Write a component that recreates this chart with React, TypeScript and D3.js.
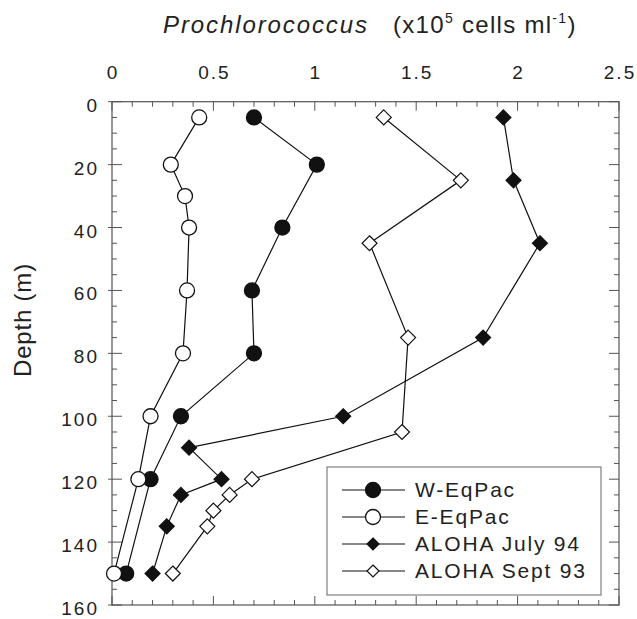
import React from "react";
import * as d3 from "d3";

const xTicks = [0, 0.5, 1, 1.5, 2, 2.5];
const xTickLabels = ["0", "0.5", "1", "1.5", "2", "2.5"];
const yTicks = [0, 20, 40, 60, 80, 100, 120, 140, 160];

const wDepth = [5, 20, 40, 60, 80, 100, 120, 150];
const wVal = [0.7, 1.01, 0.84, 0.69, 0.7, 0.34, 0.19, 0.07];
const eDepth = [5, 20, 30, 40, 60, 80, 100, 120, 150];
const eVal = [0.43, 0.29, 0.36, 0.38, 0.37, 0.35, 0.19, 0.13, 0.01];
const julyDepth = [5, 25, 45, 75, 100, 110, 120, 125, 135, 150];
const julyVal = [1.93, 1.98, 2.11, 1.83, 1.14, 0.38, 0.54, 0.34, 0.27, 0.2];
const septDepth = [5, 25, 45, 75, 105, 120, 125, 130, 135, 150];
const septVal = [1.34, 1.72, 1.27, 1.46, 1.43, 0.69, 0.58, 0.5, 0.47, 0.3];

const seriesNames = ["W-EqPac", "E-EqPac", "ALOHA July 94", "ALOHA Sept 93"];

type Kind = "fc" | "oc" | "fd" | "od";
const series: { name: string; depth: number[]; val: number[]; kind: Kind }[] = [
  { name: seriesNames[0], depth: wDepth, val: wVal, kind: "fc" },
  { name: seriesNames[1], depth: eDepth, val: eVal, kind: "oc" },
  { name: seriesNames[2], depth: julyDepth, val: julyVal, kind: "fd" },
  { name: seriesNames[3], depth: septDepth, val: septVal, kind: "od" },
];

const FONT = "'Liberation Sans', Arial, Helvetica, sans-serif";

function Marker({ kind, cx, cy, size }: { kind: Kind; cx: number; cy: number; size: number }) {
  if (kind === "fc" || kind === "oc") {
    return (
      <circle cx={cx} cy={cy} r={size} fill={kind === "fc" ? "#111" : "#fff"} stroke="#111" strokeWidth={1.3} />
    );
  }
  const s = size;
  const pts = `${cx},${cy - s} ${cx + s},${cy} ${cx},${cy + s} ${cx - s},${cy}`;
  return <polygon points={pts} fill={kind === "fd" ? "#111" : "#fff"} stroke="#111" strokeWidth={1.2} />;
}

export default function App() {
  const W = 637;
  const H = 619;
  const x0 = 112;
  const x1 = 619;
  const y0 = 101.7;
  const y1 = 605;
  const x = d3.scaleLinear().domain([0, 2.5]).range([x0, x1]);
  const y = d3.scaleLinear().domain([0, 160]).range([y0, y1]);
  const line = d3
    .line<[number, number]>()
    .x((d) => x(d[0]))
    .y((d) => y(d[1]));

  const minorX = d3.range(0, 26).map((i) => i / 10);
  const minorY = d3.range(0, 33).map((i) => i * 5);
  const frame = "#555";

  const legendX = 327;
  const legendY = 467;
  const legendW = 274;
  const legendH = 128;
  const rowY = (i: number) => 490 + i * 27;

  return (
    <svg
      width={W}
      height={H}
      style={{ position: "absolute", left: 0, top: 0, background: "#fff" }}
      fontFamily={FONT}
    >
      <rect x={0} y={0} width={W} height={H} fill="#fff" />
      {/* Title */}
      <text x={163} y={33} fontSize={24} fontStyle="italic" letterSpacing={1.9} fill="#222">
        Prochlorococcus
      </text>
      <text x={393} y={33} fontSize={24} letterSpacing={1.3} fill="#222">
        (x10
        <tspan fontSize={14} dy={-10}>5</tspan>
        <tspan dy={10}> cells ml</tspan>
        <tspan fontSize={14} dy={-10}>-1</tspan>
        <tspan dy={10}>)</tspan>
      </text>

      {/* X tick labels */}
      {xTicks.map((t, i) => (
        <text key={"xl" + i} x={x(t) + 1} y={79} fontSize={19} letterSpacing={2} textAnchor="middle" fill="#222">
          {xTickLabels[i]}
        </text>
      ))}

      {/* Y tick labels */}
      {yTicks.map((t) => (
        <text key={"yl" + t} x={99} y={y(t) + 10} fontSize={19} letterSpacing={2} textAnchor="end" fill="#222">
          {t}
        </text>
      ))}

      {/* Y axis title */}
      <text
        transform={`translate(31,320) rotate(-90)`}
        fontSize={24}
        letterSpacing={0.8}
        textAnchor="middle"
        fill="#222"
      >
        Depth (m)
      </text>

      {/* Frame */}
      <rect x={x0} y={y0} width={x1 - x0} height={y1 - y0} fill="none" stroke={frame} strokeWidth={1.2} />

      {/* Ticks top/bottom */}
      {minorX.map((t, i) => {
        const major = i % 5 === 0;
        const len = major ? 9 : 5;
        return (
          <g key={"tx" + i} stroke={frame} strokeWidth={1}>
            <line x1={x(t)} x2={x(t)} y1={y0} y2={y0 + len} />
            <line x1={x(t)} x2={x(t)} y1={y1} y2={y1 - len} />
          </g>
        );
      })}
      {/* Ticks left/right */}
      {minorY.map((t, i) => {
        const major = i % 4 === 0;
        const len = major ? 10 : 5;
        return (
          <g key={"ty" + i} stroke={frame} strokeWidth={1}>
            <line x1={x0 - (major ? 4 : 0)} x2={x0 + len} y1={y(t)} y2={y(t)} />
            <line x1={x1} x2={x1 - len} y1={y(t)} y2={y(t)} />
          </g>
        );
      })}

      {/* Series */}
      {series.map((s) => {
        const pts = s.depth.map((d, i) => [s.val[i], d] as [number, number]);
        const size = 7.5;
        return (
          <g key={s.name}>
            <path d={line(pts) || ""} fill="none" stroke="#111" strokeWidth={1.2} />
            {pts.map((p, i) => (
              <Marker key={i} kind={s.kind} cx={x(p[0])} cy={y(p[1])} size={size} />
            ))}
          </g>
        );
      })}

      {/* Legend */}
      <rect x={legendX} y={legendY} width={legendW} height={legendH} fill="#fff" stroke="#666" strokeWidth={1} />
      {series.map((s, i) => {
        const cy = rowY(i);
        const size = s.kind === "fc" || s.kind === "oc" ? 7.5 : 6;
        return (
          <g key={"lg" + i}>
            <line x1={342} x2={405} y1={cy} y2={cy} stroke="#111" strokeWidth={1.2} />
            <Marker kind={s.kind} cx={373} cy={cy} size={size} />
            <text x={415} y={cy + 7} fontSize={21} letterSpacing={1.8} fill="#222">
              {s.name}
            </text>
          </g>
        );
      })}
    </svg>
  );
}
